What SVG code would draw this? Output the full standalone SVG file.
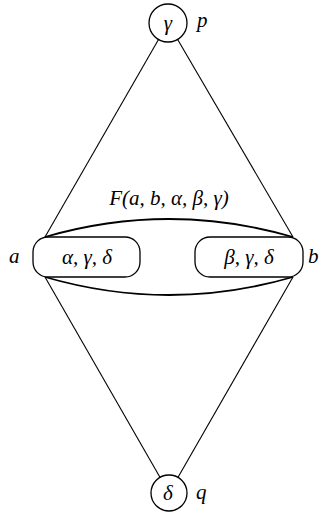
<svg xmlns="http://www.w3.org/2000/svg" width="322" height="512" viewBox="0 0 322 512">
<style>
.ln{stroke:#000;stroke-width:1.1;fill:none}
.lens{stroke:#000;stroke-width:1.8;fill:none}
.nd{stroke:#000;stroke-width:1.3;fill:#fff}
text{font-family:"Liberation Serif","DejaVu Serif",serif;font-style:italic;font-size:21px;fill:#000}
.c{text-anchor:middle}
</style>
<rect width="322" height="512" fill="#fff"/>
<g id="connectors">
<line class="ln" x1="168" y1="23" x2="45" y2="237"/>
<line class="ln" x1="168" y1="23" x2="293" y2="237"/>
<line class="ln" x1="45" y1="277" x2="169" y2="493"/>
<line class="ln" x1="293" y1="277" x2="169" y2="493"/>
<path class="lens" d="M45,237 Q169,201 293,237"/>
<path class="lens" d="M45,277 Q169,313 293,277"/>
<text class="c" x="169" y="205">F(a, b, α, β, γ)</text>
</g>
<g id="node-p">
<circle class="nd" cx="168" cy="23" r="19"/>
<text class="c" x="168" y="30">γ</text>
<text x="197" y="27">p</text>
</g>
<g id="node-q">
<circle class="nd" cx="169" cy="493" r="18"/>
<text class="c" x="168" y="500">δ</text>
<text x="196" y="499">q</text>
</g>
<g id="node-a">
<rect class="nd" x="33" y="237" width="107" height="40" rx="15"/>
<text class="c" x="87" y="264">α, γ, δ</text>
<text x="9" y="263">a</text>
</g>
<g id="node-b">
<rect class="nd" x="195" y="237" width="108" height="40" rx="15"/>
<text class="c" x="249" y="264">β, γ, δ</text>
<text x="308" y="263">b</text>
</g>
</svg>
